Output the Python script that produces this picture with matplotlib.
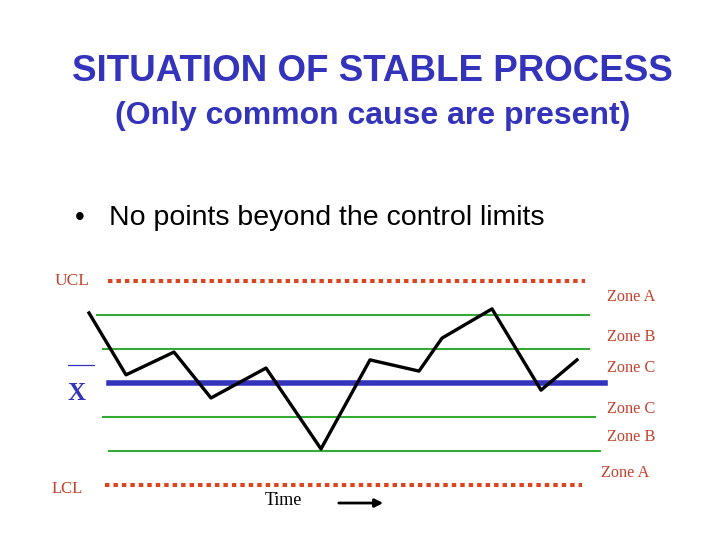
import matplotlib.pyplot as plt

# control chart data, in sigma units from the centre line
time = [89, 126, 174, 211, 266, 321, 370, 419, 442, 492, 541, 577]
values = [2.06, 0.24, 0.91, -0.44, 0.44, -1.94, 0.68, 0.35, 1.32, 2.18, -0.21, 0.68]

zone_levels = [2, 1, -1, -2]
zone_names = ["Zone A", "Zone B", "Zone C", "Zone C", "Zone B", "Zone A"]
zone_label_levels = [2.54, 1.35, 0.44, -0.76, -1.6, -2.65]

red = '#dc441e'
label_red = '#c4402c'
blue = '#3333bb'
green = '#33aa33'

fig = plt.figure(figsize=(7.2, 5.4), dpi=100)
ax = fig.add_axes([0, 0, 1, 1])
ax.set_xlim(0, 720)
ax.set_ylim((383 - 540) / 34, 383 / 34)
ax.axis('off')

# title
fig.text(0.517, 0.868, "SITUATION OF STABLE PROCESS", ha='center', va='center',
         fontsize=26.5, fontweight='bold', color=blue, family='Liberation Sans')
fig.text(0.517, 0.786, "(Only common cause are present)", ha='center', va='center',
         fontsize=23, fontweight='bold', color=blue, family='Liberation Sans')
fig.text(0.104, 0.596, "\u2022", ha='left', va='center', fontsize=20,
         family='Liberation Sans')
fig.text(0.152, 0.596, "No points beyond the control limits", ha='left', va='center',
         fontsize=20.5, family='Liberation Sans')

# control limits
ax.plot([108, 585], [3, 3], color=red, lw=2.9, ls=(0, (1.1, 1.0)), solid_capstyle='butt')
ax.plot([105, 582], [-3, -3], color=red, lw=2.9, ls=(0, (1.1, 1.0)), solid_capstyle='butt')

# zone boundaries
starts = [97, 103, 103, 109]
ends = [589, 589, 595, 600]
for lev, x0, x1 in zip(zone_levels, starts, ends):
    ax.plot([x0, x1], [lev, lev], color=green, lw=1.5)

# centre line
ax.plot([109, 605], [0, 0], color=blue, lw=4)

# process line
ax.plot(time, values, color='black', lw=2.4)

# labels
serif = 'Liberation Serif'
ax.text(55, 3.0, "UCL", color=label_red, fontsize=12.5, family=serif, ha='left', va='center')
ax.text(52, -3.12, "LCL", color=label_red, fontsize=12, family=serif, ha='left', va='center')
ax.plot([68, 94], [0.53, 0.53], color=blue, lw=0.9)
ax.text(67, -0.3, "X", color=blue, fontsize=18, fontweight='bold', family=serif,
        ha='left', va='center')
for i, (name, lev) in enumerate(zip(zone_names, zone_label_levels)):
    x = 601 if i == len(zone_names) - 1 else 607
    ax.text(x, lev, name, color=label_red, fontsize=11.7, family=serif, ha='left', va='center')

ax.text(265, -3.47, "Time", color='black', fontsize=13, family=serif, ha='left', va='center')
ax.annotate("", xy=(386, -3.53), xytext=(336, -3.53),
            arrowprops=dict(arrowstyle='-|>', color='black', lw=2, mutation_scale=12))

fig.savefig('out.png', dpi=100)
